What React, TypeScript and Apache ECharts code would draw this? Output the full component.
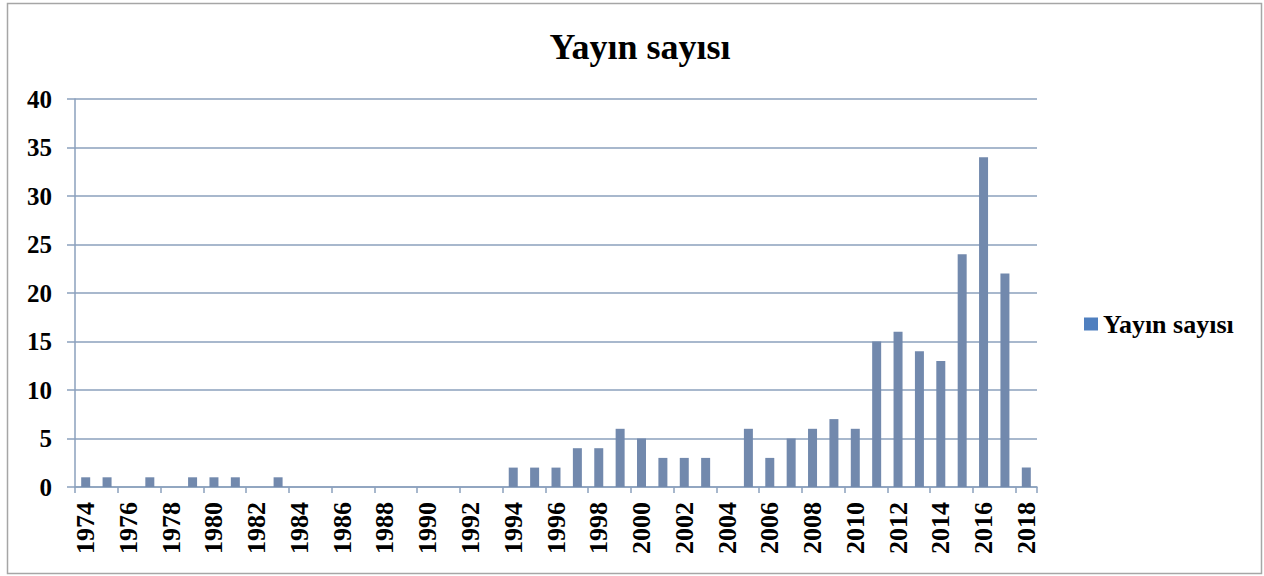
import React, { useEffect, useRef } from "react";
import * as echarts from "echarts";

const years: string[] = [];
for (let y = 1974; y <= 2018; y++) years.push(String(y));

const counts = [
  1, 1, 0, 1, 0, 1, 1, 1, 0, 1, // 1974-1983
  0, 0, 0, 0, 0, 0, 0, 0, 0, 0, // 1984-1993
  2, 2, 2, 4, 4, 6, 5, 3, 3, 3, // 1994-2003
  0, 6, 3, 5, 6, 7, 6, 15, 16, 14, // 2004-2013
  13, 24, 34, 22, 2, // 2014-2018
];

const seriesName = "Yayın sayısı";
const titleText = "Yayın sayısı";

const FONT = '"Liberation Serif", "Times New Roman", serif';
const GRID_COLOR = "#8ba1bd";
const BAR_COLOR = "#7289ad";

export default function App() {
  const ref = useRef<HTMLDivElement>(null);
  useEffect(() => {
    if (!ref.current) return;
    const chart = echarts.init(ref.current, undefined, { renderer: "svg" });
    chart.setOption({
      animation: false,
      backgroundColor: "#ffffff",
      title: {
        text: titleText,
        left: 635,
        textAlign: "center",
        top: 24,
        textStyle: { fontFamily: FONT, fontWeight: "bold", fontSize: 36, color: "#000" },
      },
      legend: {
        data: [{ name: seriesName, itemStyle: { color: "#4f7fbf" } }],
        left: 1079,
        top: 306,
        itemWidth: 14,
        itemHeight: 13,
        itemGap: 6,
        icon: "rect",
        textStyle: { fontFamily: FONT, fontWeight: "bold", fontSize: 26, color: "#000" },
      },
      graphic: [
        {
          type: "rect",
          shape: { x: 7.5, y: 3.5, width: 1254, height: 570 },
          style: { fill: "none", stroke: "#a6a6a6", lineWidth: 1.5 },
          silent: true,
        },
      ],
      grid: { left: 75, right: 227, top: 99, bottom: 89, containLabel: false },
      xAxis: {
        type: "category",
        data: years,
        boundaryGap: true,
        axisLine: { show: true, lineStyle: { color: GRID_COLOR, width: 1.5 } },
        axisTick: { show: true, interval: 1, length: 6, lineStyle: { color: GRID_COLOR, width: 1.5 } },
        axisLabel: {
          interval: 1,
          rotate: 90,
          margin: 15,
          fontFamily: FONT,
          fontWeight: "bold",
          fontSize: 26,
          color: "#000",
        },
      },
      yAxis: {
        type: "value",
        min: 0,
        max: 40,
        interval: 5,
        axisLine: { show: true, lineStyle: { color: GRID_COLOR, width: 1.5 } },
        axisTick: { show: true, length: 8, lineStyle: { color: GRID_COLOR, width: 1.5 } },
        splitLine: { show: true, lineStyle: { color: GRID_COLOR, width: 1.5 } },
        axisLabel: {
          margin: 23,
          fontFamily: FONT,
          fontWeight: "bold",
          fontSize: 25,
          color: "#000",
        },
      },
      series: [
        {
          name: seriesName,
          type: "bar",
          data: counts,
          barWidth: 9,
          itemStyle: { color: BAR_COLOR },
        },
      ],
    });
    return () => chart.dispose();
  }, []);
  return (
    <div
      ref={ref}
      style={{ position: "fixed", left: 0, top: 0, width: 1264, height: 576 }}
    />
  );
}
